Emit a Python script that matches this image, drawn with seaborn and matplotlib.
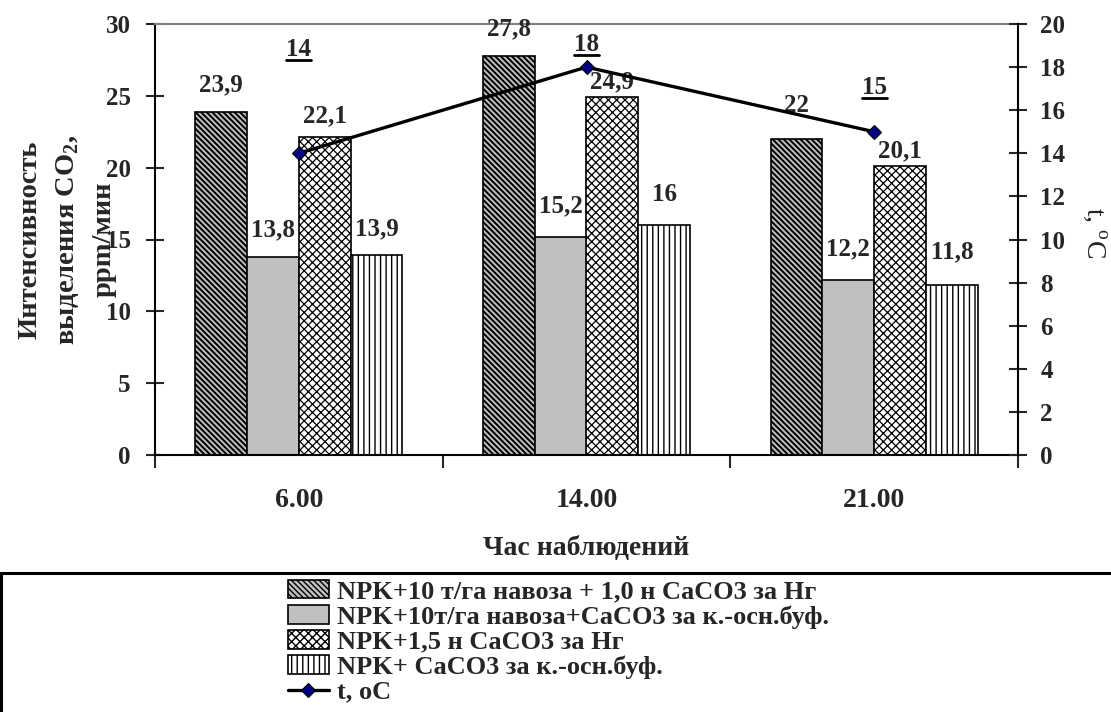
import numpy as np
import pandas as pd
import matplotlib
matplotlib.use('Agg')
import matplotlib.pyplot as plt
from matplotlib.patches import Rectangle
from matplotlib.lines import Line2D
import seaborn as sns

# данные с графика
times = ['6.00', '14.00', '21.00']
variants = ['NPK+10 т/га навоза + 1,0 н СаСО3 за Нг',
            'NPK+10т/га навоза+СаСО3 за к.-осн.буф.',
            'NPK+1,5 н СаСО3 за Нг',
            'NPK+ СаСО3 за к.-осн.буф.']
v1 = [23.9, 27.8, 22.0]
v2 = [13.8, 15.2, 12.2]
v3 = [22.1, 24.9, 20.1]
v4 = [13.9, 16.0, 11.8]
temps = [14, 18, 15]

face = ['#c0c0c0', '#c0c0c0', 'white', 'white']
hatches = ['\\\\\\\\\\\\', '', 'xxxx', '|||']
hatch_lw = [1.4, 1.0, 0.9, 1.0]
# отступы подписей над столбиками (pt), строка = вариант
label_pad = [[11, 11, 16],
             [11, 14, 14],
             [7, 3, 3],
             [11, 14, 16]]
temp_offset = [75, 16, 32]

sns.set_theme(style='ticks')
plt.rcParams['font.family'] = ['Liberation Serif', 'DejaVu Serif']
plt.rcParams['mathtext.fontset'] = 'custom'
plt.rcParams['mathtext.rm'] = 'Liberation Serif'
plt.rcParams['mathtext.bf'] = 'Liberation Serif:bold'

df = pd.DataFrame({
    'time': times * 4,
    'variant': np.repeat(variants, len(times)),
    'value': v1 + v2 + v3 + v4,
})

fig = plt.figure(figsize=(11.11, 7.12), dpi=100)
ax = fig.add_axes([155 / 1111, 1 - 455 / 712, 863 / 1111, 431 / 712])

sns.barplot(data=df, x='time', y='value', hue='variant', order=times,
            hue_order=variants, palette=dict(zip(variants, face)),
            width=0.72, saturation=1, edgecolor='black', linewidth=1.2,
            legend=False, ax=ax)

for i, cont in enumerate(ax.containers):
    for j, p in enumerate(cont.patches):
        p.set_hatch(hatches[i])
        if hasattr(p, 'set_hatch_linewidth'):
            p.set_hatch_linewidth(hatch_lw[i])
        val = p.get_height()
        txt = f'{val:g}'.replace('.', ',')
        ax.annotate(txt, (p.get_x() + p.get_width() / 2, val),
                    xytext=(0, label_pad[i][j]), textcoords='offset points',
                    ha='center', va='bottom', fontsize=18, fontweight='bold')

ax.set_ylim(0, 30)
ax.set_yticks(np.arange(0, 31, 5))
ax.set_xlim(-0.5, 2.5)
ax.set_xticks(np.arange(-0.5, 3, 1), minor=True)
ax.tick_params(axis='x', which='major', length=0, pad=24, labelsize=20)
ax.tick_params(axis='x', which='minor', direction='out', length=9, width=1.5)
ax.tick_params(axis='y', direction='inout', length=13, width=1.5, pad=11, labelsize=18)
for lab in ax.get_xticklabels() + ax.get_yticklabels():
    lab.set_fontweight('bold')

ax.set_xlabel('Час наблюдений', fontsize=20, fontweight='bold', labelpad=16)
ax.set_ylabel('Интенсивность\nвыделения СО$_{\\mathbf{2}}$,\nppm/мин',
              fontsize=20.5, fontweight='bold', linespacing=1.55, va='center')
ax.yaxis.set_label_coords(-0.102, 0.5)

ax.spines['top'].set_color('#808080')
ax.spines['top'].set_linewidth(1.5)
for s in ['left', 'bottom']:
    ax.spines[s].set_color('black')
    ax.spines[s].set_linewidth(1.5)
ax.spines['right'].set_visible(False)

ax2 = ax.twinx()
sns.lineplot(x=np.arange(len(times)), y=temps, ax=ax2, color='black',
             linewidth=2.4, marker='D', markersize=7, markerfacecolor='#000080',
             markeredgecolor='black', markeredgewidth=0.8, label='t, oC',
             legend=False)
ax2.set_ylim(0, 20)
ax2.set_yticks(np.arange(0, 21, 2))
ax2.tick_params(axis='y', direction='inout', length=13, width=1.5, pad=9.5, labelsize=18)
for lab in ax2.get_yticklabels():
    lab.set_fontweight('bold')
for s in ['top', 'left', 'bottom']:
    ax2.spines[s].set_visible(False)
ax2.spines['right'].set_color('black')
ax2.spines['right'].set_linewidth(1.5)
ax2.set_ylabel('t, $^{\\mathrm{o}}$C', fontsize=20, rotation=-90, va='center')
ax2.yaxis.set_label_coords(1.089, 0.515)
ax.set_xlim(-0.5, 2.5)

temp_texts = []
for k, t in enumerate(temps):
    tt = ax2.annotate(f'{t}', (k, t), xytext=(0, temp_offset[k]),
                      textcoords='offset points', ha='center', va='center',
                      fontsize=18, fontweight='bold')
    temp_texts.append(tt)

handles = list(ax.containers) + [ax2.lines[0]]
labels = variants + ['t, oC']
fig.legend(handles, labels, loc='upper left',
           bbox_to_anchor=(288 / 1111, 1 - 580 / 712), frameon=False,
           prop={'family': 'Liberation Serif', 'weight': 'bold', 'size': 19},
           handlelength=1.55, handleheight=0.7, handletextpad=0.3,
           labelspacing=0.06, borderpad=0, borderaxespad=0)

fig.patches.append(Rectangle((0.001, -0.1), 1.2, 1 - 573 / 712 + 0.1,
                             transform=fig.transFigure, fill=False,
                             edgecolor='black', linewidth=2.2))

# подчёркивание подписей температуры
fig.canvas.draw()
r = fig.canvas.get_renderer()
inv = fig.transFigure.inverted()
for tt in temp_texts:
    bb = tt.get_window_extent(r)
    (x0, y0), (x1, _) = inv.transform([(bb.x0, bb.y0 + 1), (bb.x1, bb.y0 + 1)])
    fig.add_artist(Line2D([x0, x1], [y0, y0], transform=fig.transFigure,
                          color='black', linewidth=2))

fig.savefig('out.png', dpi=100)
